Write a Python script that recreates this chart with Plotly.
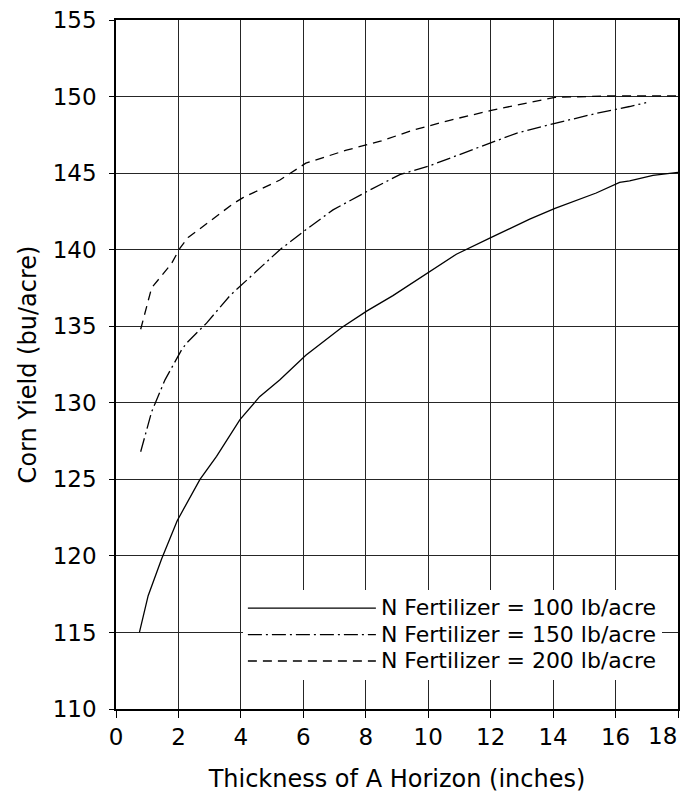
import plotly.graph_objects as go

# Thickness of A horizon (inches) and corn yield (bu/acre)
thick_100 = [0.75, 1.03, 1.46, 1.96, 2.69, 3.22, 3.97, 4.6, 5.25, 6.08, 7.22, 8.04,
             8.87, 10.07, 10.9, 12.02, 13.25, 14.06, 15.38, 16.13, 16.45, 17.2, 18.0]
yield_100 = [115.0, 117.4, 119.8, 122.3, 125.0, 126.5, 128.9, 130.4, 131.5, 133.1, 134.9, 136.0,
             137.0, 138.6, 139.7, 140.8, 142.0, 142.7, 143.7, 144.4, 144.5, 144.85, 145.05]

thick_150 = [0.79, 1.14, 1.57, 2.1, 2.26, 2.9, 3.65, 4.07, 5.25, 6.08, 6.95, 8.04,
             9.09, 10.07, 11.27, 12.02, 12.82, 14.06, 15.38, 16.45, 16.98]
yield_150 = [126.8, 129.4, 131.5, 133.45, 133.9, 135.2, 137.0, 137.8, 140.0, 141.3, 142.6, 143.8,
             144.9, 145.5, 146.4, 147.0, 147.6, 148.25, 148.9, 149.35, 149.6]

thick_200 = [0.79, 1.09, 1.14, 1.78, 2.05, 2.31, 2.58, 3.75, 4.07, 5.25, 6.08, 7.38,
             8.5, 9.5, 10.69, 12.02, 13.0, 14.06, 16.0, 18.0]
yield_200 = [134.8, 137.25, 137.5, 139.1, 140.1, 140.8, 141.2, 143.0, 143.4, 144.55, 145.65, 146.5,
             147.1, 147.8, 148.45, 149.1, 149.5, 149.95, 150.05, 150.05]

names = ["N Fertilizer = 100 lb/acre", "N Fertilizer = 150 lb/acre", "N Fertilizer = 200 lb/acre"]

x_ticks = [0, 2, 4, 6, 8, 10, 12, 14, 16, 18]
y_ticks = [110, 115, 120, 125, 130, 135, 140, 145, 150, 155]

FONT = "DejaVu Sans"
TICK_SIZE = 23

fig = go.Figure()
fig.add_trace(go.Scatter(x=thick_100, y=yield_100, mode="lines",
                         name=f"<span style='font-size:22px'>{names[0]}</span>",
                         line=dict(color="black", width=1.3)))
fig.add_trace(go.Scatter(x=thick_150, y=yield_150, mode="lines",
                         name=f"<span style='font-size:22px'>{names[1]}</span>",
                         line=dict(color="black", width=1.3, dash="14px,4px,2px,4px")))
fig.add_trace(go.Scatter(x=thick_200, y=yield_200, mode="lines",
                         name=f"<span style='font-size:22px'>{names[2]}</span>",
                         line=dict(color="black", width=1.3, dash="9px,6px")))

# page body adds an 8px offset, so the figure is sized to fit the window
W, H = 681, 790
L, T = 108, 12
PW, PH = 562.5, 689

fig.update_layout(
    width=W, height=H,
    margin=dict(l=L, r=W - L - PW, t=T, b=H - T - PH, autoexpand=False),
    plot_bgcolor="white", paper_bgcolor="white",
    font=dict(family=FONT, color="black"),
    showlegend=True,
    legend=dict(x=(235 - L) / PW, xanchor="left", y=1 - (582 - T) / PH, yanchor="top",
                bgcolor="white", borderwidth=0, itemwidth=128,
                font=dict(family=FONT, size=18, color="black")),
)

# last x tick label is right-aligned to the plot edge, as in the original
fig.add_annotation(x=x_ticks[-1], xref="x", y=0, yref="paper", text=str(x_ticks[-1]),
                   showarrow=False, xanchor="right", yanchor="top", yshift=-12, xshift=1,
                   font=dict(family=FONT, size=TICK_SIZE, color="black"))

fig.update_xaxes(range=[0, 18], tickvals=x_ticks,
                 ticktext=[str(v) for v in x_ticks[:-1]] + [""],
                 showgrid=True, gridcolor="#262626", gridwidth=1.2,
                 zeroline=False, showline=True, linecolor="black", linewidth=1.5, mirror=True,
                 ticks="outside", ticklen=7, tickwidth=1.3, tickcolor="black", automargin=False,
                 ticklabeloverflow="allow",
                 tickfont=dict(family=FONT, size=TICK_SIZE, color="black"),
                 title=dict(text="Thickness of A Horizon (inches)", font=dict(family=FONT, size=24),
                            standoff=21))
fig.update_yaxes(range=[110, 155], tickvals=y_ticks, showgrid=True, gridcolor="#262626", gridwidth=1.2,
                 zeroline=False, showline=True, linecolor="black", linewidth=1.5, mirror=True,
                 ticks="outside", ticklen=5, tickwidth=1.3, tickcolor="black", automargin=False,
                 ticklabelstandoff=8, ticklabeloverflow="allow",
                 tickfont=dict(family=FONT, size=TICK_SIZE, color="black"),
                 title=dict(text="Corn Yield (bu/acre)", font=dict(family=FONT, size=24),
                            standoff=9))

fig.write_html("out.html")
